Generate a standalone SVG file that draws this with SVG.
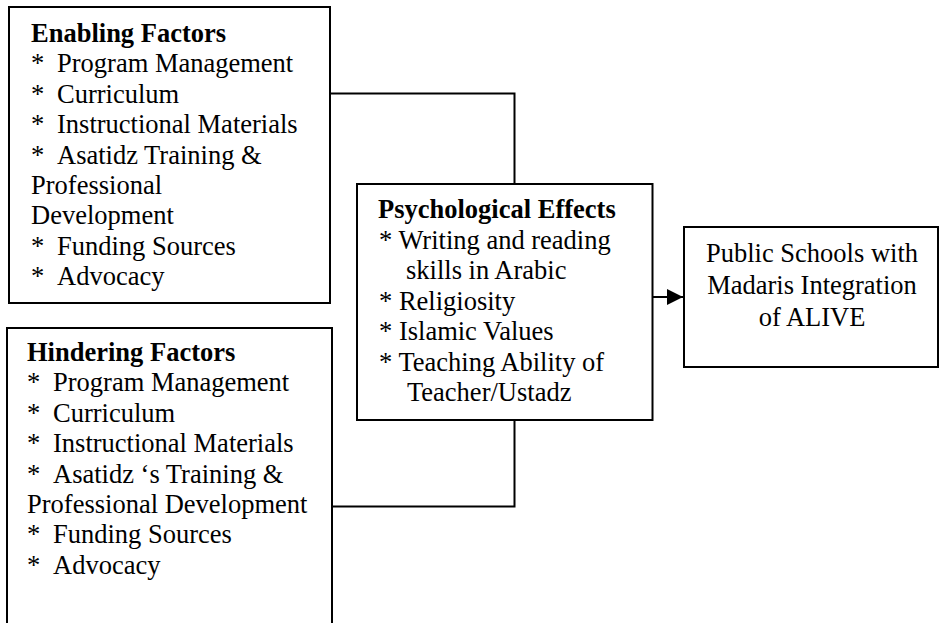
<svg xmlns="http://www.w3.org/2000/svg" width="940" height="623" viewBox="0 0 940 623">
  <style>
    .box { fill: #ffffff; stroke: #000000; stroke-width: 2; }
    .wire { fill: none; stroke: #000000; stroke-width: 2; }
    text { font-family: "Liberation Serif", "Times New Roman", serif; font-size: 26.5px; fill: #000000; }
    .head { font-weight: bold; }
    .mid { text-anchor: middle; }
  </style>
  <defs>
    <marker id="arrowhead" viewBox="0 0 10 10" refX="10" refY="5" markerWidth="16" markerHeight="16" markerUnits="userSpaceOnUse" orient="auto">
      <path d="M0,0 L10,5 L0,10 Z" fill="#000000"/>
    </marker>
  </defs>

  <rect width="940" height="623" fill="#ffffff"/>

  <!-- connectors -->
  <g id="connectors">
    <path class="wire" d="M330,93.5 H514.5 V184"/>
    <path class="wire" d="M514.5,420 V506.5 H332"/>
    <path class="wire" d="M650,297 H683" marker-end="url(#arrowhead)"/>
  </g>

  <!-- enabling factors -->
  <g id="enabling">
    <rect class="box" x="9" y="7" width="321" height="296"/>
    <text class="head" x="31" y="42">Enabling Factors</text>
    <text x="31" y="72.4">*<tspan x="57">Program Management</tspan></text>
    <text x="31" y="102.8">*<tspan x="57">Curriculum</tspan></text>
    <text x="31" y="133.2">*<tspan x="57">Instructional Materials</tspan></text>
    <text x="31" y="163.6">*<tspan x="57">Asatidz Training &amp;</tspan></text>
    <text x="31" y="194">Professional</text>
    <text x="31" y="224.4">Development</text>
    <text x="31" y="254.8">*<tspan x="57">Funding Sources</tspan></text>
    <text x="31" y="285.2">*<tspan x="57">Advocacy</tspan></text>
  </g>

  <!-- hindering factors -->
  <g id="hindering">
    <rect class="box" x="7" y="328" width="325" height="310"/>
    <text class="head" x="27" y="361">Hindering Factors</text>
    <text x="27" y="391.4">*<tspan x="53">Program Management</tspan></text>
    <text x="27" y="421.8">*<tspan x="53">Curriculum</tspan></text>
    <text x="27" y="452.2">*<tspan x="53">Instructional Materials</tspan></text>
    <text x="27" y="482.6">*<tspan x="53">Asatidz ‘s Training &amp;</tspan></text>
    <text x="27" y="513">Professional Development</text>
    <text x="27" y="543.4">*<tspan x="53">Funding Sources</tspan></text>
    <text x="27" y="573.8">*<tspan x="53">Advocacy</tspan></text>
  </g>

  <!-- psychological effects -->
  <g id="effects">
    <rect class="box" x="357" y="184" width="295.5" height="236"/>
    <text class="head" x="378" y="218">Psychological Effects</text>
    <text x="379" y="248.5">* Writing and reading</text>
    <text x="406" y="279">skills in Arabic</text>
    <text x="379" y="309.5">* Religiosity</text>
    <text x="379" y="340">* Islamic Values</text>
    <text x="379" y="370.5">* Teaching Ability of</text>
    <text x="407" y="401">Teacher/Ustadz</text>
  </g>

  <!-- outcome -->
  <g id="outcome">
    <rect class="box" x="684" y="227" width="254" height="140"/>
    <text class="mid" x="812" y="262">Public Schools with</text>
    <text class="mid" x="812" y="294">Madaris Integration</text>
    <text class="mid" x="812" y="326">of ALIVE</text>
  </g>
</svg>
